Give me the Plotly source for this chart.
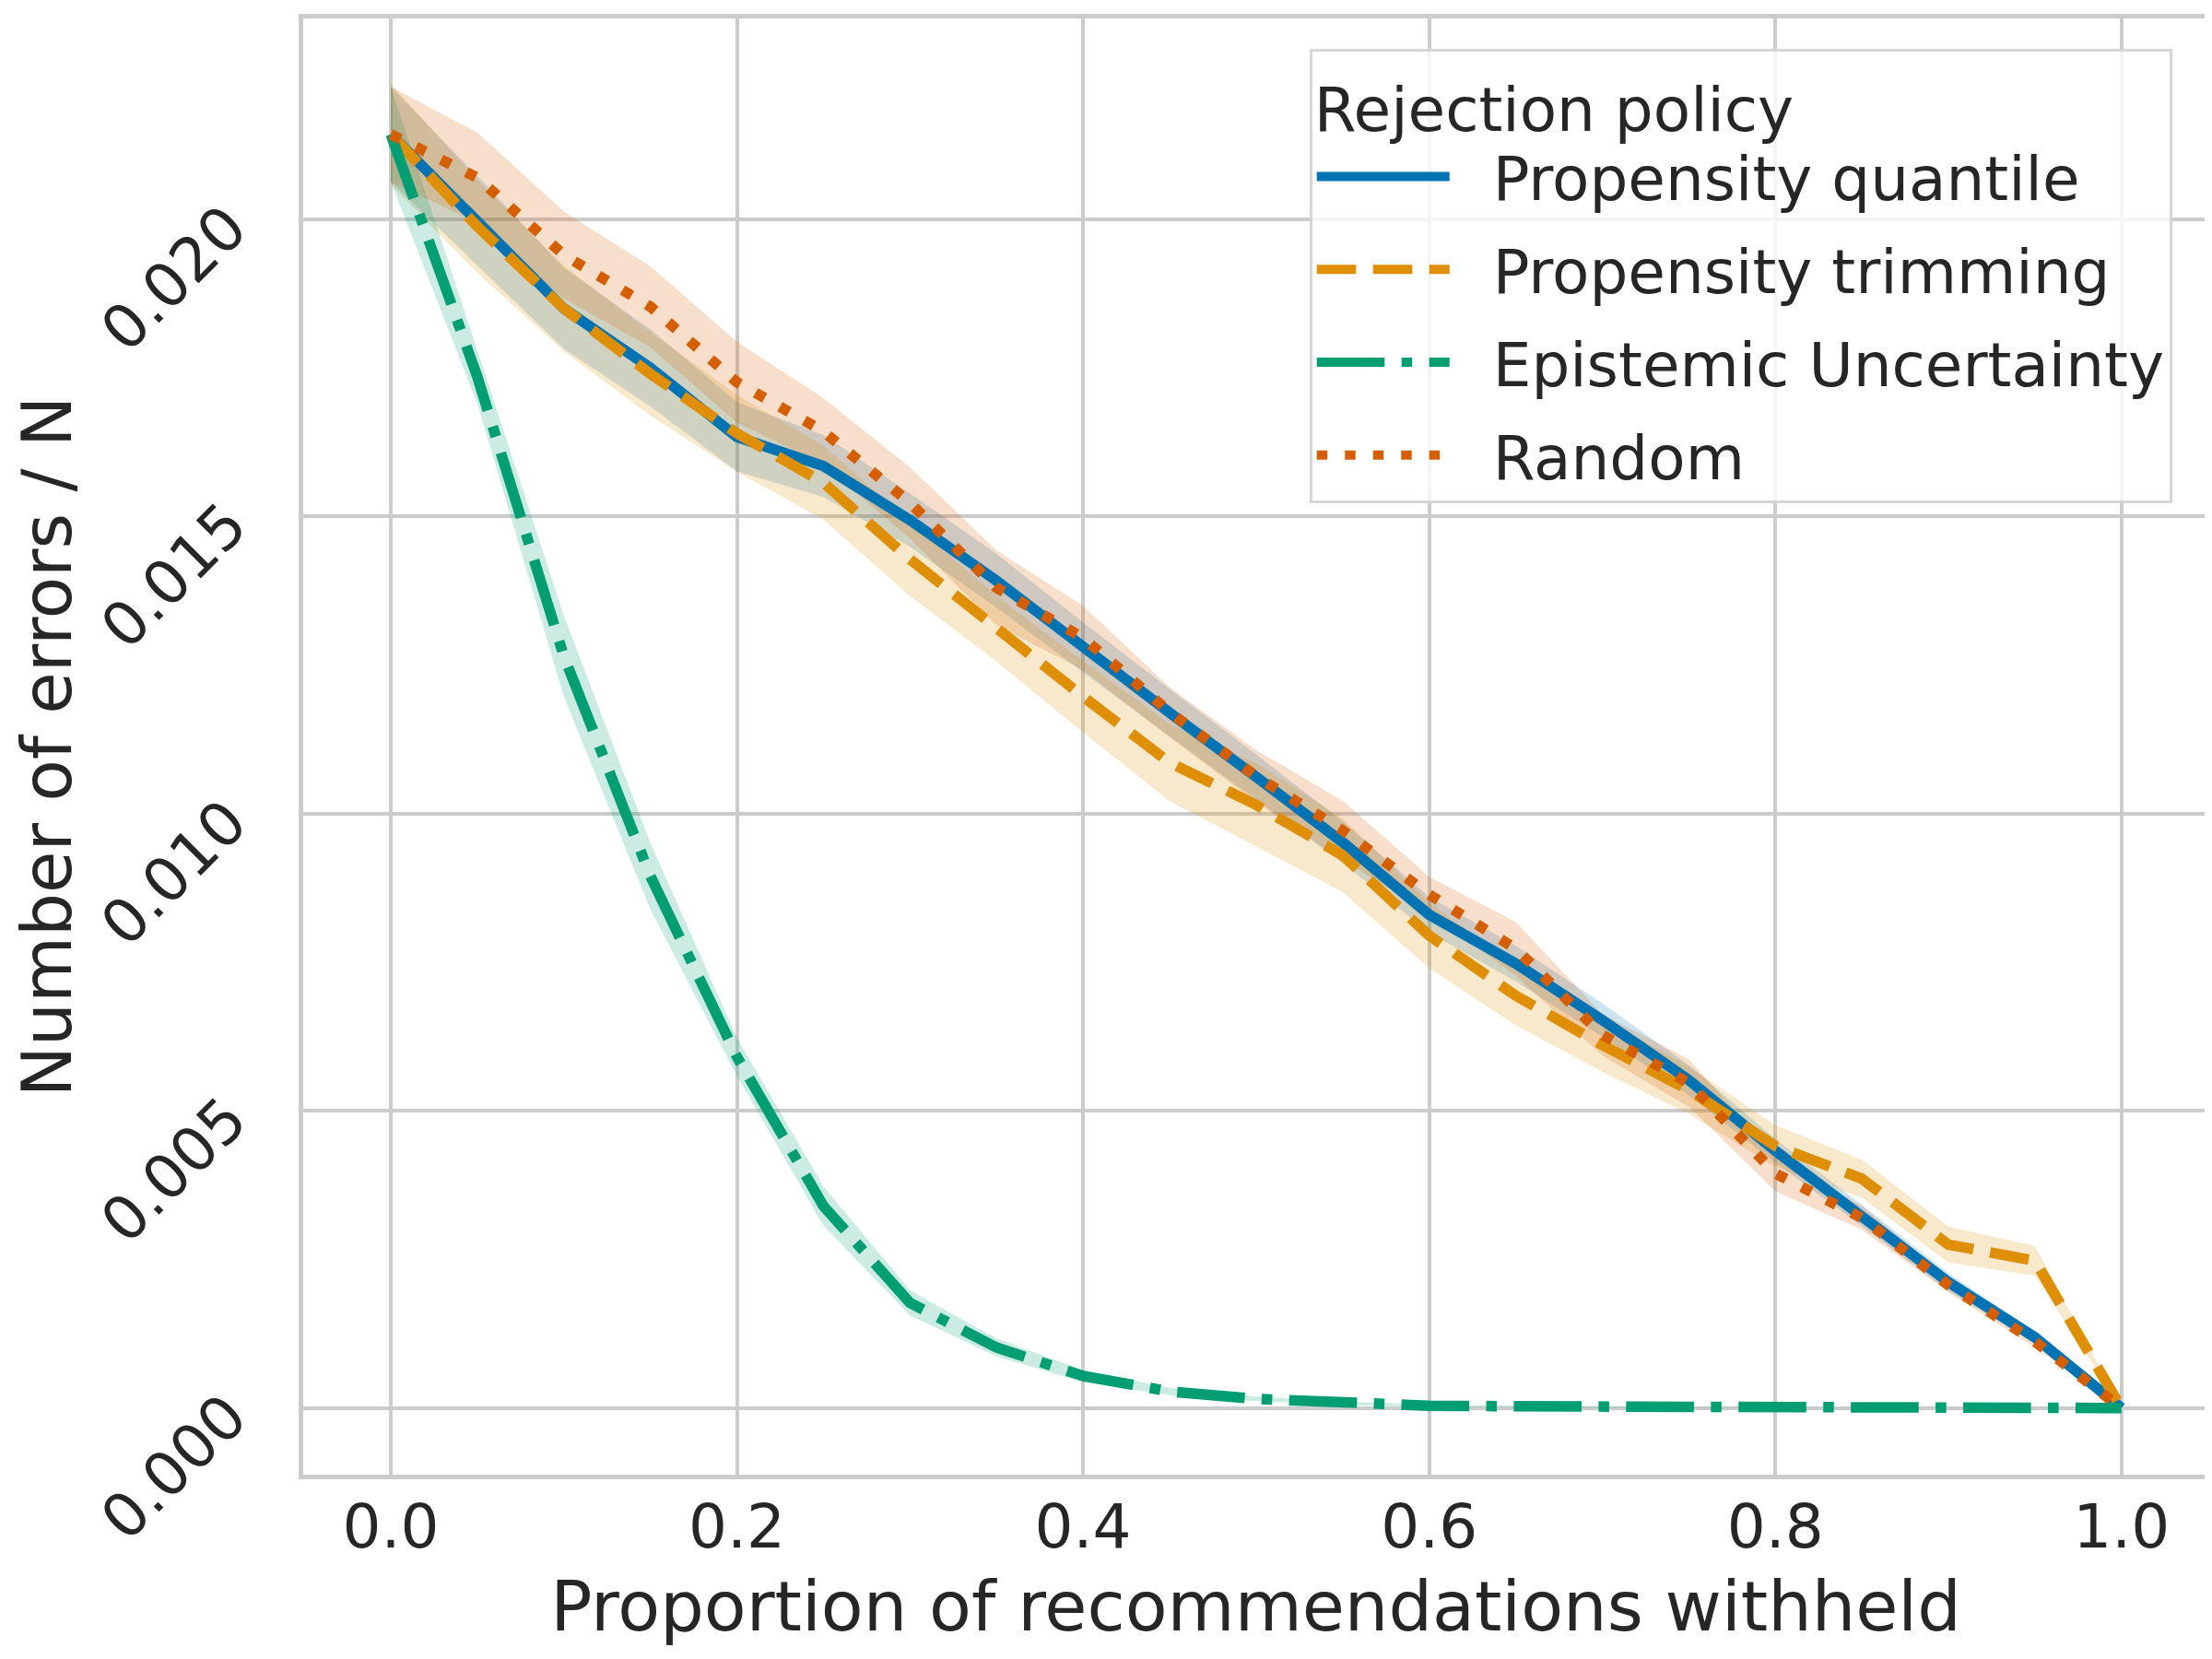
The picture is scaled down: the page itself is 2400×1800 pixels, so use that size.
import plotly.graph_objects as go

# ---- data ----
x_prop = [0.0, 0.05, 0.1, 0.15, 0.2, 0.25, 0.3, 0.35, 0.4, 0.45, 0.5,
          0.55, 0.6, 0.65, 0.7, 0.75, 0.8, 0.85, 0.9, 0.95, 1.0]

quantile_mean = [0.02143, 0.01998, 0.01850, 0.01750, 0.01634, 0.01585, 0.01494, 0.01392, 0.01280, 0.01170, 0.01062,
                 0.00952, 0.00830, 0.00748, 0.00653, 0.00552, 0.00433, 0.00324, 0.00212, 0.00119, 0.0]
quantile_ci = [0.00080, 0.00075, 0.00068, 0.00065, 0.00058, 0.00052, 0.00045, 0.00045, 0.00042, 0.00040, 0.00038,
               0.00035, 0.00030, 0.00030, 0.00028, 0.00025, 0.00020, 0.00018, 0.00015, 0.00010, 0.0]

trimming_mean = [0.02143, 0.01988, 0.01850, 0.01740, 0.01640, 0.01557, 0.01428, 0.01311, 0.01197, 0.01086, 0.01015,
                 0.00930, 0.00795, 0.00694, 0.00611, 0.00535, 0.00441, 0.00386, 0.00275, 0.00248, 0.0]
trimming_ci = [0.00085, 0.00078, 0.00072, 0.00070, 0.00065, 0.00062, 0.00062, 0.00055, 0.00060, 0.00065, 0.00070,
               0.00062, 0.00055, 0.00050, 0.00045, 0.00040, 0.00035, 0.00032, 0.00030, 0.00025, 0.0]

epistemic_mean = [0.02143, 0.01735, 0.01265, 0.00895, 0.00591, 0.00340, 0.00177, 0.00102, 0.00054, 0.00028, 0.000155,
                  0.00008, 0.00004, 0.00003, 0.00002, 0.00001, 0.00001, 0.0, 0.0, 0.0, 0.0]
epistemic_ci = [0.00080, 0.00045, 0.00068, 0.00056, 0.00032, 0.00033, 0.00021, 0.00015, 0.00010, 0.00006, 0.00004,
                0.00003, 0.00002, 0.00001, 0.00001, 0.00001, 0.0, 0.0, 0.0, 0.0, 0.0]

random_mean = [0.02143, 0.02070, 0.01940, 0.01853, 0.01726, 0.01643, 0.01523, 0.01380, 0.01296, 0.01171, 0.01063,
               0.00972, 0.00864, 0.00773, 0.00628, 0.00547, 0.00395, 0.00320, 0.00207, 0.00112, 0.0]
random_ci = [0.00080, 0.00076, 0.00073, 0.00068, 0.00068, 0.00056, 0.00060, 0.00063, 0.00054, 0.00042, 0.00044,
             0.00050, 0.00030, 0.00045, 0.00035, 0.00040, 0.00030, 0.00020, 0.00012, 0.00010, 0.0]

series_names = ["Propensity quantile", "Propensity trimming", "Epistemic Uncertainty", "Random"]
x_ticks = [0.0, 0.2, 0.4, 0.6, 0.8, 1.0]
y_ticks = [0.0, 0.005, 0.010, 0.015, 0.020]

# ---- styling ----
colors = ["#0173B2", "#DE8F05", "#029E73", "#D55E00"]
fills = ["rgba(1,115,178,0.2)", "rgba(222,143,5,0.2)", "rgba(2,158,115,0.2)", "rgba(213,94,0,0.2)"]
LW = 11.5
dashes = ["solid",
          f"{3.7*LW:.1f}px,{1.6*LW:.1f}px",
          f"{6.4*LW:.1f}px,{1.6*LW:.1f}px,{1.0*LW:.1f}px,{1.6*LW:.1f}px",
          f"{1.0*LW:.1f}px,{1.65*LW:.1f}px"]
means = [quantile_mean, trimming_mean, epistemic_mean, random_mean]
cis = [quantile_ci, trimming_ci, epistemic_ci, random_ci]

TXT = "#262626"
GRID = "#cccccc"
FONT = "DejaVu Sans"
GAP = "\u00a0\u00a0"  # spacing between legend handle and label

fig = go.Figure()

# confidence bands (below all lines)
for name, m, c, fc in zip(series_names, means, cis, fills):
    upper = [a + b for a, b in zip(m, c)]
    lower = [a - b for a, b in zip(m, c)]
    fig.add_trace(go.Scatter(
        x=x_prop + x_prop[::-1], y=upper + lower[::-1],
        fill="toself", fillcolor=fc, line=dict(width=0),
        mode="lines", showlegend=False, hoverinfo="skip", legendgroup=name))

# mean lines
for name, m, col, d in zip(series_names, means, colors, dashes):
    fig.add_trace(go.Scatter(
        x=x_prop, y=m, mode="lines", name=GAP + name, legendgroup=name,
        line=dict(color=col, width=LW, dash=d)))

fig.update_layout(
    width=2400, height=1800,
    paper_bgcolor="white", plot_bgcolor="white",
    margin=dict(l=321, r=12, t=12, b=208, autoexpand=False),
    font=dict(family=FONT, color=TXT, size=66),
    legend=dict(
        title=dict(text="Rejection policy", font=dict(size=66, color=TXT, family=FONT)),
        font=dict(size=66, color=TXT, family=FONT),
        x=0.981, xanchor="right", y=0.979, yanchor="top",
        bgcolor="rgba(255,255,255,0.8)", bordercolor="#d6d6d6", borderwidth=3,
        tracegroupgap=12, itemwidth=144,
    ),
)

fig.update_xaxes(
    range=[-0.0506, 1.0502], tickvals=x_ticks, tickformat=".1f",
    showgrid=True, gridcolor=GRID, gridwidth=3.5,
    showline=True, mirror=True, linecolor=GRID, linewidth=4.5,
    zeroline=False, ticks="", ticklabelstandoff=-5,
    tickfont=dict(size=66, color=TXT, family=FONT),
    title=dict(text="Proportion of recommendations withheld",
               font=dict(size=75, color=TXT, family=FONT), standoff=24),
)
fig.update_yaxes(
    range=[-0.00112, 0.02338], tickvals=y_ticks, tickformat=".3f",
    tickangle=-45,
    showgrid=True, gridcolor=GRID, gridwidth=3.5,
    showline=True, mirror=True, linecolor=GRID, linewidth=4.5,
    zeroline=False, ticks="", ticklabelstandoff=63,
    tickfont=dict(size=66, color=TXT, family=FONT),
    title=dict(text="Number of errors / N",
               font=dict(size=74, color=TXT, family=FONT), standoff=8),
)

fig.write_html("out.html")
